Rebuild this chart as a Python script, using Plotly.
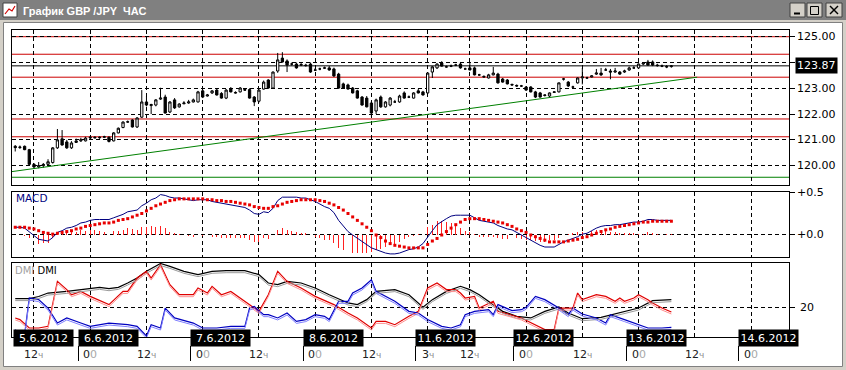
import plotly.graph_objects as go

W, H = 846, 370

# ---------------- data ----------------
bars = list(range(-4, 137))          # hourly bar index (0 = 5.6.2012 12:00)

open_ = [120.75,120.70,120.75,120.62,120.05,119.95,120.00,120.05,120.12,120.69,
         121.04,120.92,120.69,120.90,120.96,120.96,121.07,121.10,121.08,121.10,
         121.10,120.96,121.27,121.48,121.69,121.77,121.50,121.88,122.47,122.33,
         122.35,122.58,122.66,122.08,122.55,122.28,122.40,122.43,122.47,122.47,
         122.90,122.70,122.82,122.93,122.80,122.62,122.97,122.84,122.86,122.95,
         122.95,122.66,122.50,122.97,123.32,123.01,123.67,124.17,124.06,123.94,
         123.94,123.90,123.90,123.94,123.70,123.75,123.78,123.79,123.75,123.55,
         123.17,123.13,123.01,122.90,122.66,122.62,122.43,122.12,122.66,122.28,
         122.35,122.47,122.47,122.82,122.66,122.62,122.90,122.86,122.82,123.63,
         123.79,123.98,123.83,123.86,123.90,123.94,123.75,123.79,123.79,123.52,
         123.46,123.40,123.52,123.55,123.36,123.32,123.15,123.11,123.09,123.05,
         123.05,122.86,122.82,122.72,122.70,122.84,122.86,123.36,123.24,123.05,
         123.21,123.40,123.40,123.44,123.55,123.59,123.71,123.67,123.63,123.63,
         123.63,123.71,123.79,123.79,123.94,124.02,124.02,123.90,123.86,123.84,
         123.84]
high = [120.80,120.78,120.78,120.65,120.10,120.14,120.10,120.25,120.72,121.42,
        121.38,121.00,120.95,121.05,121.08,121.12,121.12,121.14,121.13,121.16,
        121.14,121.30,121.48,121.72,121.75,121.80,121.88,122.93,122.70,122.40,
        122.58,123.02,122.75,122.50,122.62,122.42,122.50,122.55,122.60,122.90,
        122.95,122.78,122.93,123.00,122.85,122.97,123.05,122.88,123.05,123.00,
        123.00,122.70,122.95,123.30,123.35,123.65,124.37,124.40,124.12,124.00,
        124.00,123.98,123.95,124.00,123.78,123.80,123.84,123.86,123.80,123.60,
        123.22,123.18,123.05,122.94,122.70,122.70,122.50,122.60,122.72,122.50,
        122.66,122.55,122.75,122.88,122.72,122.85,122.98,122.90,123.62,123.86,
        123.97,124.05,123.88,123.92,123.95,124.02,123.80,123.98,123.84,123.56,
        123.50,123.56,123.83,123.60,123.40,123.36,123.18,123.15,123.13,123.08,
        123.08,122.90,122.86,122.76,122.84,122.88,123.22,123.40,123.28,123.10,
        123.42,123.79,123.45,123.50,123.75,123.79,123.79,123.75,123.79,123.67,
        123.72,123.84,123.86,123.96,124.02,124.10,124.08,123.95,123.92,123.90,
        123.90]
low = [120.55,120.65,120.60,120.00,119.88,119.90,119.92,120.00,120.08,120.65,
       120.78,120.65,120.65,120.88,120.92,120.94,121.05,121.06,121.04,121.07,
       120.90,120.94,121.25,121.45,121.66,121.48,121.46,121.85,122.30,122.00,
       122.30,122.55,122.02,122.04,122.20,122.25,122.38,122.40,122.45,122.45,
       122.62,122.68,122.78,122.72,122.60,122.58,122.84,122.80,122.84,122.90,
       122.60,122.31,122.45,122.95,122.98,122.98,123.60,124.00,123.63,123.88,
       123.76,123.86,123.84,123.60,123.68,123.70,123.75,123.68,123.44,122.98,
       123.00,122.95,122.80,122.60,122.33,122.26,121.89,122.00,122.24,122.25,
       122.30,122.44,122.44,122.60,122.62,122.60,122.80,122.72,122.78,123.40,
       123.75,123.84,123.80,123.82,123.86,123.76,123.72,123.70,123.50,123.48,
       123.42,123.38,123.50,123.18,123.22,123.15,123.10,123.06,123.05,122.90,
       122.84,122.62,122.64,122.68,122.66,122.82,122.84,123.30,123.05,123.00,
       123.18,123.15,123.37,123.42,123.52,123.48,123.68,123.35,123.60,123.52,
       123.60,123.68,123.75,123.75,123.90,123.88,123.86,123.84,123.82,123.78,
       123.80]
close = [120.70,120.72,120.62,120.05,119.95,120.00,120.05,120.15,120.69,121.00,
         120.80,120.69,120.88,120.96,121.00,121.07,121.10,121.08,121.10,121.12,
         120.94,121.27,121.45,121.69,121.70,121.50,121.85,122.47,122.35,122.37,
         122.55,122.62,122.04,122.47,122.24,122.39,122.43,122.47,122.55,122.86,
         122.66,122.74,122.90,122.74,122.62,122.93,122.86,122.82,123.01,122.93,
         122.62,122.47,122.93,123.24,123.01,123.63,124.10,124.02,123.90,123.94,
         123.79,123.92,123.88,123.63,123.71,123.75,123.79,123.71,123.48,123.01,
         123.01,122.97,122.82,122.62,122.35,122.28,122.04,122.55,122.28,122.47,
         122.62,122.47,122.70,122.62,122.66,122.82,122.82,122.74,123.59,123.83,
         123.94,123.86,123.83,123.86,123.90,123.79,123.75,123.71,123.52,123.52,
         123.44,123.52,123.59,123.21,123.24,123.17,123.13,123.09,123.09,122.93,
         122.86,122.66,122.66,122.74,122.82,122.86,123.21,123.36,123.09,123.05,
         123.40,123.44,123.40,123.48,123.59,123.52,123.71,123.63,123.67,123.55,
         123.67,123.79,123.79,123.94,123.98,123.90,123.90,123.88,123.86,123.83,
         123.87]
last_price = 123.87

red_levels = [125.00, 124.32, 123.43, 121.81, 121.12]
green_level = 119.55
trend_bars = [-4.69, 141.5]
trend_prices = [119.77, 123.43]

macd = [0.09,0.09,0.08,0.04,0.00,-0.05,-0.06,-0.07,-0.03,0.03,
        0.05,0.08,0.09,0.11,0.14,0.15,0.17,0.18,0.18,0.18,
        0.18,0.20,0.22,0.24,0.27,0.28,0.29,0.34,0.37,0.41,
        0.43,0.47,0.46,0.44,0.43,0.43,0.42,0.41,0.40,0.41,
        0.41,0.41,0.39,0.38,0.37,0.36,0.35,0.34,0.33,0.32,
        0.29,0.25,0.24,0.27,0.26,0.31,0.40,0.44,0.44,0.44,
        0.44,0.43,0.43,0.41,0.39,0.36,0.33,0.31,0.26,0.17,
        0.11,0.04,0.00,-0.04,-0.08,-0.12,-0.15,-0.17,-0.19,-0.21,
        -0.22,-0.22,-0.21,-0.19,-0.17,-0.16,-0.14,-0.10,-0.02,0.05,
        0.12,0.16,0.19,0.22,0.23,0.23,0.23,0.23,0.20,0.17,
        0.16,0.15,0.14,0.11,0.09,0.07,0.06,0.03,0.00,-0.03,
        -0.06,-0.09,-0.12,-0.14,-0.14,-0.14,-0.11,-0.08,-0.06,-0.04,
        -0.02,0.01,0.02,0.05,0.08,0.10,0.11,0.11,0.12,0.12,
        0.13,0.14,0.15,0.15,0.16,0.18,0.18,0.17,0.17,0.17,
        0.17]
signal = [0.09,0.09,0.09,0.08,0.07,0.05,0.03,0.02,0.01,0.02,
          0.03,0.04,0.05,0.07,0.08,0.10,0.11,0.12,0.13,0.14,
          0.14,0.15,0.17,0.18,0.19,0.21,0.23,0.25,0.28,0.31,
          0.34,0.36,0.38,0.40,0.41,0.42,0.42,0.42,0.42,0.42,
          0.42,0.41,0.41,0.40,0.40,0.39,0.39,0.38,0.37,0.36,
          0.35,0.33,0.32,0.31,0.31,0.33,0.34,0.36,0.38,0.39,
          0.40,0.41,0.41,0.41,0.41,0.40,0.39,0.37,0.35,0.32,
          0.29,0.25,0.21,0.17,0.13,0.09,0.05,0.00,-0.03,-0.07,
          -0.10,-0.12,-0.13,-0.14,-0.15,-0.15,-0.15,-0.15,-0.11,-0.07,
          -0.04,0.00,0.04,0.08,0.12,0.15,0.18,0.19,0.19,0.19,
          0.18,0.17,0.16,0.15,0.14,0.12,0.10,0.07,0.05,0.03,
          0.00,-0.02,-0.04,-0.06,-0.08,-0.08,-0.08,-0.08,-0.07,-0.06,
          -0.05,-0.03,-0.02,0.00,0.02,0.04,0.06,0.07,0.09,0.10,
          0.11,0.12,0.13,0.14,0.15,0.15,0.16,0.16,0.16,0.16,
          0.16]
histogram = [m - s for m, s in zip(macd, signal)]

adx_bars = [-4,-1,1,3,7,10,14,16,18,20,22,24,26,27,29,32,35,38,41,45,48,50,52,54,57,60,
            63,67,69,71,73,77,80,82,83,85,88,91,93,95,97,100,103,106,109,112,114,117,121,
            125,129,132,136]
adx = [25.6,25.6,27.0,29.3,30.4,31.6,33.1,32.2,33.1,36.0,39.3,43.8,47.1,49.0,47.1,43.8,41.6,
       43.8,44.2,44.2,41.6,36.0,34.9,37.1,36.0,32.7,28.2,22.7,21.6,24.9,30.4,31.6,28.2,22.7,
       19.8,24.9,30.4,33.8,31.6,28.2,23.8,17.1,13.8,12.7,17.1,20.0,16.0,12.2,13.1,16.0,19.3,
       24.2,24.9]
pdi_bars = [-4,-3,-1,1,3,4,5,7,8,10,12,16,19,20,22,24,25,27,29,31,34,35,37,38,40,42,45,48,
            50,52,54,57,60,64,67,69,72,73,75,77,80,82,84,86,88,90,91,92,94,95,98,99,104,107,
            109,111,112,115,116,117,120,122,124,125,126,128,129,131,132,134,136]
pdi = [12.7,11.6,6.0,6.0,7.1,21.6,37.1,31.6,28.2,30.4,27.1,21.6,30.4,30.4,39.3,43.8,39.3,
       48.2,34.9,28.2,28.2,32.7,29.3,33.8,28.2,30.4,23.8,17.1,28.2,43.8,37.1,32.7,27.1,21.6,
       16.0,12.7,6.0,10.4,10.4,8.2,13.8,17.1,32.7,36.0,31.6,31.6,29.3,26.0,27.1,19.3,23.8,
       17.1,12.7,8.2,4.9,4.9,19.3,19.3,29.3,24.9,28.2,27.1,23.8,26.0,23.8,26.0,28.2,24.9,
       22.7,19.3,16.7]
mdi_bars = [-4,-3,-2,-1,1,3,5,7,10,12,16,20,22,24,25,27,28,30,34,36,39,42,45,46,47,49,50,52,
            54,56,58,60,62,63,65,67,68,70,72,73,77,80,82,84,87,89,91,92,94,97,98,99,102,104,
            105,107,109,112,114,115,117,120,122,123,126,129,131,134,136]
mdi = [4.9,1.6,1.6,26.0,24.9,19.3,9.3,12.7,9.3,7.1,9.3,8.2,7.1,0.7,8.2,6.0,19.3,12.7,9.3,
       6.0,6.0,7.1,7.1,19.3,20.4,14.9,14.9,12.7,16.0,10.4,11.6,14.9,13.8,11.6,23.8,23.8,29.3,
       32.7,38.2,30.4,23.8,17.1,16.0,11.6,7.1,6.0,8.2,14.9,17.1,18.2,14.9,21.6,17.6,18.2,19.8,
       27.1,24.9,19.3,14.9,19.3,15.3,12.7,9.3,14.9,11.6,8.2,6.0,6.0,6.4]

grid_bars = [0, 12, 24, 36, 48, 60, 72, 84, 93, 105, 117, 129, 141, 153]
hour_labels = ['12ч', '00', '12ч', '00', '12ч', '00', '12ч', '3ч', '12ч', '00', '12ч', '00', '12ч', '00']
day_labels = ['5.6.2012', '6.6.2012', '7.6.2012', '8.6.2012', '11.6.2012',
              '12.6.2012', '13.6.2012', '14.6.2012']
price_ticks = [120, 121, 122, 123, 124, 125]
price_ticktext = ['120.00', '121.00', '122.00', '123.00', '', '125.00']
macd_ticks = [0.0, 0.5]
macd_ticktext = ['+0.0', '+0.5']
dmi_ticks = [20]
dmi_ticktext = ['20']

# ---------------- layout helpers ----------------
FONT = 'DejaVu Sans'
def py(p):
    return 1 - p / H
def pxx(p):
    return p / W

XRANGE = [-4.69, 161.1]
XDOM = [pxx(12), pxx(789)]

fig = go.Figure()

fig.add_trace(go.Candlestick(
    x=bars, open=open_, high=high, low=low, close=close, xaxis='x', yaxis='y',
    increasing=dict(line=dict(color='black', width=1), fillcolor='white'),
    decreasing=dict(line=dict(color='black', width=1), fillcolor='black'),
    whiskerwidth=0, showlegend=False, hoverinfo='skip'))
fig.add_trace(go.Scatter(x=trend_bars, y=trend_prices, mode='lines',
                         line=dict(color='#008000', width=1), xaxis='x', yaxis='y',
                         showlegend=False, hoverinfo='skip'))

fig.add_trace(go.Bar(x=bars, y=histogram, width=0.2, marker=dict(color='#ff2020', line=dict(width=0)),
                     xaxis='x2', yaxis='y2', showlegend=False, hoverinfo='skip'))
fig.add_trace(go.Scatter(x=bars, y=macd, mode='lines', line=dict(color='#000080', width=1),
                         xaxis='x2', yaxis='y2', showlegend=False, hoverinfo='skip'))
fig.add_trace(go.Scatter(x=bars, y=signal, mode='markers',
                         marker=dict(symbol='square', size=3, color='#e80000', line=dict(width=0)),
                         xaxis='x2', yaxis='y2', showlegend=False, hoverinfo='skip'))

# DMI: lighter shadow copies on an offset overlay axis, then main lines
for xs, ys, light, dark in [(adx_bars, adx, '#9a9a9a', '#000000'),
                            (pdi_bars, pdi, '#ff9090', '#e00000'),
                            (mdi_bars, mdi, '#8080ff', '#0000c0')]:
    fig.add_trace(go.Scatter(x=xs, y=ys, mode='lines', line=dict(color=light, width=1),
                             xaxis='x3', yaxis='y4', showlegend=False, hoverinfo='skip'))
    fig.add_trace(go.Scatter(x=xs, y=ys, mode='lines', line=dict(color=dark, width=1.2),
                             xaxis='x3', yaxis='y3', showlegend=False, hoverinfo='skip'))

xcommon = dict(range=XRANGE, domain=XDOM, showgrid=True, gridcolor='black', griddash='4px,3px',
               gridwidth=1, tickvals=grid_bars, showticklabels=False, ticks='',
               showline=True, linecolor='black', linewidth=1, mirror=True, zeroline=False,
               fixedrange=True)
ycommon = dict(side='right', showgrid=True, gridcolor='black', griddash='4px,3px', gridwidth=1,
               ticks='outside', ticklen=5, tickcolor='black', showline=True, linecolor='black',
               linewidth=1, mirror=True, zeroline=False, fixedrange=True, showticklabels=False)

DMI_TOP = 20 + (307 - 263) / 1.5
shift = 2 / 1.5

fig.update_layout(
    width=W, height=H, margin=dict(l=0, r=0, t=0, b=0),
    paper_bgcolor='#d4d0c8', plot_bgcolor='white', showlegend=False, bargap=0,
    xaxis=dict(**xcommon, anchor='y', rangeslider=dict(visible=False)),
    xaxis2=dict(**xcommon, anchor='y2'),
    xaxis3=dict(**xcommon, anchor='y3'),
    yaxis=dict(**ycommon, domain=[py(185), py(30)], range=[119.25, 125.26], anchor='x',
               tickvals=price_ticks),
    yaxis2=dict(**ycommon, domain=[py(257), py(192)], range=[-0.256, 0.5], anchor='x2',
                tickvals=macd_ticks),
    yaxis3=dict(**ycommon, domain=[py(337), py(263)], range=[0, DMI_TOP], anchor='x3',
                tickvals=dmi_ticks),
    yaxis4=dict(overlaying='y3', range=[shift, DMI_TOP + shift], visible=False, anchor='x3',
                fixedrange=True),
)

shapes = []
# window chrome
shapes.append(dict(type='rect', xref='paper', yref='paper', x0=pxx(3.5), x1=pxx(842.5), y0=py(366.5), y1=py(22.5),
                   fillcolor='white', line=dict(color='#808080', width=1), layer='below'))
shapes.append(dict(type='rect', xref='paper', yref='paper', x0=0, x1=1, y0=py(20), y1=1,
                   fillcolor='#808080', line=dict(width=0), layer='below'))
for bx in [(790, 805), (807, 822), (826, 842)]:
    shapes.append(dict(type='rect', xref='paper', yref='paper', x0=pxx(bx[0]), x1=pxx(bx[1]),
                       y0=py(17), y1=py(3), fillcolor='#d4d0c8', line=dict(color='#404040', width=1)))
shapes.append(dict(type='line', xref='paper', yref='paper', x0=pxx(794), x1=pxx(800), y0=py(13.5), y1=py(13.5),
                   line=dict(color='black', width=2)))
shapes.append(dict(type='rect', xref='paper', yref='paper', x0=pxx(810.5), x1=pxx(818.5), y0=py(14.5), y1=py(6.5),
                   line=dict(color='black', width=1)))
shapes.append(dict(type='line', xref='paper', yref='paper', x0=pxx(830), x1=pxx(838), y0=py(14), y1=py(6),
                   line=dict(color='black', width=1.5)))
shapes.append(dict(type='line', xref='paper', yref='paper', x0=pxx(830), x1=pxx(838), y0=py(6), y1=py(14),
                   line=dict(color='black', width=1.5)))
# icon
shapes.append(dict(type='rect', xref='paper', yref='paper', x0=pxx(3), x1=pxx(17), y0=py(17), y1=py(3),
                   fillcolor='white', line=dict(color='#404040', width=1)))
shapes.append(dict(type='path', xref='paper', yref='paper',
                   path=f'M {pxx(5)} {py(14)} L {pxx(9)} {py(9)} L {pxx(12)} {py(11)} L {pxx(15)} {py(6)}',
                   line=dict(color='#d00000', width=1.2)))

# price level lines
for lv in red_levels:
    shapes.append(dict(type='line', xref='paper', yref='y', x0=XDOM[0], x1=XDOM[1], y0=lv, y1=lv,
                       line=dict(color='#cc0000', width=1), layer='below'))
shapes.append(dict(type='line', xref='paper', yref='y', x0=XDOM[0], x1=XDOM[1], y0=green_level, y1=green_level,
                   line=dict(color='#008000', width=1), layer='below'))
shapes.append(dict(type='line', xref='paper', yref='y', x0=XDOM[0], x1=XDOM[1], y0=last_price, y1=last_price,
                   line=dict(color='black', width=1), layer='below'))

# date boxes / separators
box_left_px = [13, 78, 190, 303, 415, 513, 626, 738]
for bl in box_left_px[1:]:
    shapes.append(dict(type='line', xref='paper', yref='paper', x0=pxx(bl + 0.5), x1=pxx(bl + 0.5),
                       y0=py(361), y1=py(346), line=dict(color='black', width=1)))

annotations = []
def ylab(text, yref, yval):
    annotations.append(dict(xref='paper', yref=yref, x=pxx(796), y=yval, xanchor='left', yanchor='middle',
                            text=text, showarrow=False, borderpad=0,
                            font=dict(family=FONT, size=11, color='black')))
for v, t in zip(price_ticks, price_ticktext):
    if t:
        ylab(t, 'y', v)
for v, t in zip(macd_ticks, macd_ticktext):
    ylab(t, 'y2', v)
for v, t in zip(dmi_ticks, dmi_ticktext):
    annotations.append(dict(xref='paper', yref='y3', x=pxx(799), y=v, xanchor='left', yanchor='middle',
                            text=t, showarrow=False, borderpad=0,
                            font=dict(family=FONT, size=11, color='black')))

annotations.append(dict(xref='paper', yref='paper', x=pxx(21), y=py(10.5), xanchor='left', yanchor='middle',
                        text='<b>График GBP /JPY  ЧАС</b>', showarrow=False,
                        font=dict(family='Liberation Sans', size=11, color='white')))
annotations.append(dict(xref='paper', yref='y', x=pxx(795), y=last_price, xanchor='left', yanchor='middle',
                        text=f'{last_price:.2f}', showarrow=False, bgcolor='black', borderpad=1,
                        font=dict(family=FONT, size=11, color='white')))
annotations.append(dict(xref='paper', yref='paper', x=pxx(14), y=py(198.5), xanchor='left', yanchor='middle',
                        text='MACD', showarrow=False, font=dict(family=FONT, size=10.5, color='#000080')))
annotations.append(dict(xref='paper', yref='paper', x=pxx(13), y=py(270), xanchor='left', yanchor='middle',
                        text="<span style='color:#a0a0a0'>DMI</span> DMI", showarrow=False,
                        font=dict(family=FONT, size=10, color='black')))
for bl, lab in zip(box_left_px, day_labels):
    annotations.append(dict(xref='paper', yref='paper', x=pxx(bl), y=py(338), xanchor='left', yanchor='middle',
                            text=lab, showarrow=False, bgcolor='black', width=57, height=14, borderpad=1,
                            font=dict(family=FONT, size=11, color='white')))
for gb, lab in zip(grid_bars, hour_labels):
    if lab.endswith('ч'):
        txt = lab[:-1] + "<span style='color:#909090;font-size:9px'>ч</span>"
    else:
        txt = lab[0] + "<span style='color:#a8a8a8'>" + lab[1:] + "</span>"
    annotations.append(dict(xref='x3', yref='paper', x=gb, y=py(354), xanchor='center', yanchor='middle',
                            text=txt, showarrow=False, font=dict(family=FONT, size=11, color='#202020')))

fig.update_layout(shapes=shapes, annotations=annotations)
fig.write_html('out.html', config={'displayModeBar': False, 'staticPlot': True},
               post_script="document.body.style.margin='0px';document.body.style.overflow='hidden';")
